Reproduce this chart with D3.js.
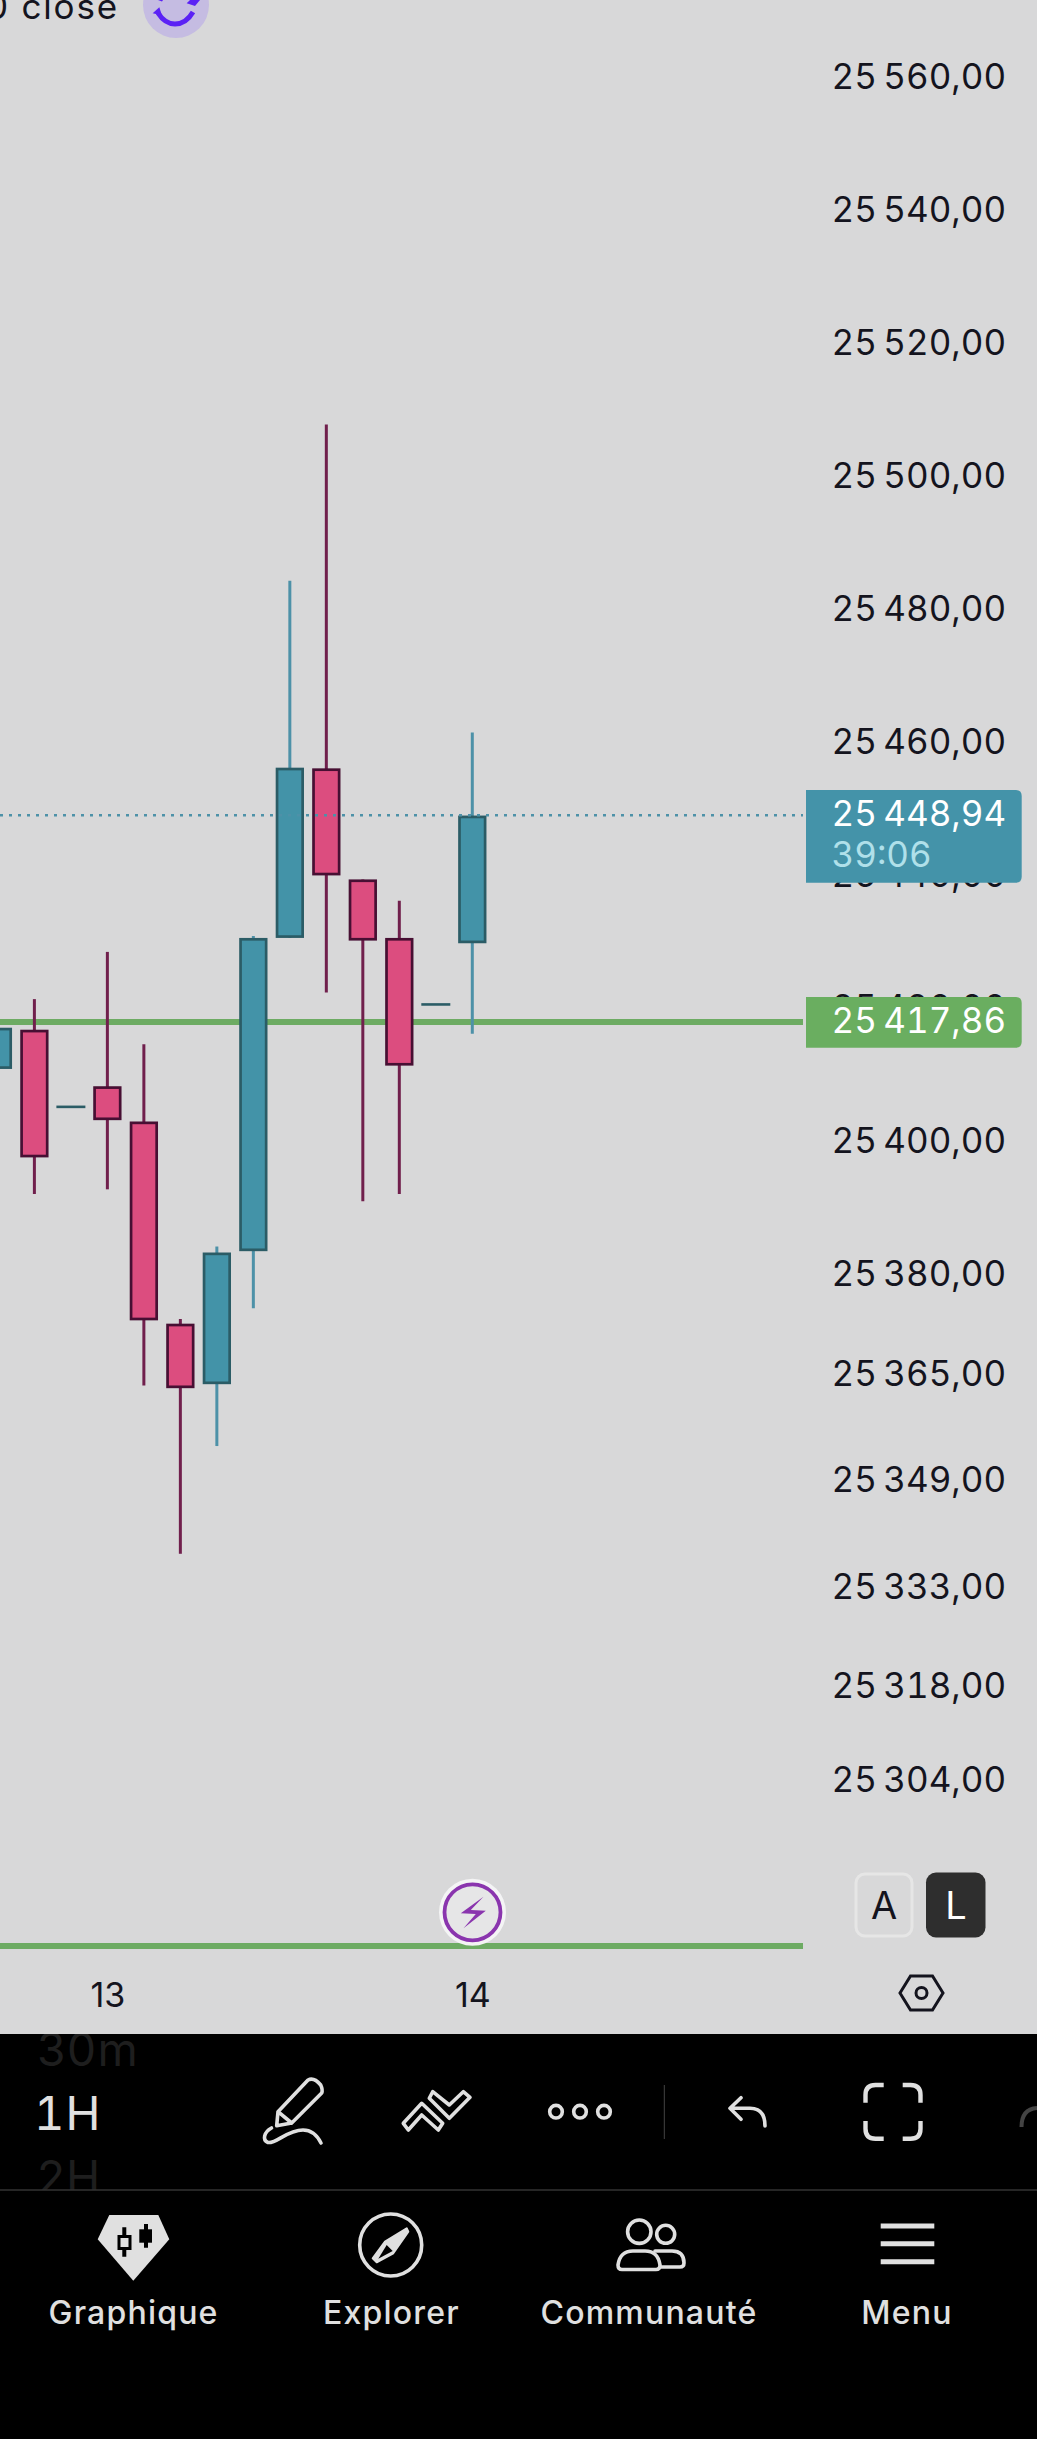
<!DOCTYPE html>
<html>
<head>
<meta charset="utf-8">
<script src="https://cdn.jsdelivr.net/npm/d3@7"></script>
<style>
  html, body { margin: 0; padding: 0; background: #000; overflow: hidden; }
  svg { display: block; font-family: Inter, "Noto Sans", sans-serif; }
  .axis path, .axis line { display: none; }
  .price { font-variant-numeric: tabular-nums; }
</style>
</head>
<body>
<div id="chart"></div>
<script>
// Hourly candles, left to right
const opens  = [25410.8, 25416.7, 25405.1, 25408.2, 25402.9, 25372.5, 25363.4, 25383.4, 25430.5, 25456.0, 25439.3, 25430.5, 25420.5, 25429.7];
const highs  = [25417.0, 25421.3, 25405.1, 25428.4, 25414.5, 25373.2, 25384.1, 25430.8, 25484.2, 25507.7, 25439.3, 25436.1, 25420.5, 25461.4];
const lows   = [25410.8, 25392.0, 25405.1, 25392.7, 25363.2, 25337.9, 25354.1, 25374.8, 25430.5, 25422.3, 25390.9, 25392.0, 25420.5, 25416.1];
const closes = [25417.0, 25397.5, 25405.1, 25403.1, 25373.0, 25362.8, 25383.2, 25430.5, 25456.1, 25439.9, 25430.1, 25411.3, 25420.5, 25448.9];

const priceTicks = [25560, 25540, 25520, 25500, 25480, 25460, 25440, 25420, 25400, 25380, 25365, 25349, 25333, 25318, 25304];
const dayTicks = [3, 13];
const dayLabels = ["13", "14"];
const lastPrice = 25448.94;
const linePrice = 25417.86;
const countdown = "39:06";
const navLabels = ["Graphique", "Explorer", "Communauté", "Menu"];
const navCenters = [133.6, 391.5, 649, 907];

const width = 1037, height = 2439;
const bg = "#d8d8d9", upFill = "#4393a8", upEdge = "#2b5c66", upWick = "#4d91a8";
const downFill = "#dc4d7f", downEdge = "#470f33", downWick = "#701f4c";
const green = "#6dab63", chrome = "#e0e0e0";

const candles = opens.map((o, i) => ({ i, o, h: highs[i], l: lows[i], c: closes[i] }));

const fr = d3.formatLocale({ decimal: ",", thousands: "\u2009", grouping: [3], currency: ["", ""] });
const fmt = fr.format(",.2f");

const x = d3.scaleLinear().domain([0, 13]).range([-2.1, 472.3]);
const y = d3.scaleLinear().domain([lastPrice, linePrice]).range([815.3, 1022]);

const svg = d3.select("#chart").append("svg")
    .attr("width", width).attr("height", height);

svg.append("rect").attr("width", width).attr("height", 2034).attr("fill", bg);

// Price axis, the tags further down cover two of its labels
const yAxis = svg.append("g").attr("class", "axis")
    .attr("transform", "translate(831.5,0.6)")
    .call(d3.axisRight(y).tickValues(priceTicks).tickFormat(fmt).tickSize(0).tickPadding(0))
    .attr("font-family", null);
yAxis.selectAll("text")
    .attr("class", "price").attr("font-size", 35).attr("fill", "#14141e");

// Time axis
const xAxis = svg.append("g").attr("class", "axis")
    .attr("transform", "translate(0,1983)")
    .call(d3.axisBottom(x).tickValues(dayTicks).tickFormat((d, i) => dayLabels[i]).tickSize(0).tickPadding(0))
    .attr("font-family", null);
xAxis.selectAll("text").attr("font-size", 34).attr("fill", "#14141e");

// Green price line, below the candles
svg.append("line")
    .attr("x1", 0).attr("x2", 803).attr("y1", y(linePrice)).attr("y2", y(linePrice))
    .attr("stroke", green).attr("stroke-width", 6);

const isUp = d => d.c >= d.o;
const real = candles.filter(d => d.o !== d.c);
const doji = candles.filter(d => d.o === d.c);

svg.selectAll(".wick").data(real.filter(d => d.i > 0)).enter().append("line")
    .attr("class", "wick")
    .attr("x1", d => x(d.i)).attr("x2", d => x(d.i))
    .attr("y1", d => y(d.h)).attr("y2", d => y(d.l))
    .attr("stroke", d => isUp(d) ? upWick : downWick)
    .attr("stroke-width", 3);

const bodyW = 25.6, edge = 2.7;
svg.selectAll(".body").data(real).enter().append("rect")
    .attr("class", "body")
    .attr("x", d => x(d.i) - bodyW / 2)
    .attr("y", d => y(Math.max(d.o, d.c)) + edge / 2)
    .attr("width", bodyW)
    .attr("height", d => Math.abs(y(d.o) - y(d.c)) - edge)
    .attr("fill", d => isUp(d) ? upFill : downFill)
    .attr("stroke", d => isUp(d) ? upEdge : downEdge)
    .attr("stroke-width", edge);

svg.selectAll(".doji").data(doji).enter().append("line")
    .attr("class", "doji")
    .attr("x1", d => x(d.i) - 14.5).attr("x2", d => x(d.i) + 14.5)
    .attr("y1", d => y(d.c)).attr("y2", d => y(d.c))
    .attr("stroke", upEdge).attr("stroke-width", 2.6);

// Dotted last price line
svg.append("line")
    .attr("x1", 0).attr("x2", 803).attr("y1", y(lastPrice)).attr("y2", y(lastPrice))
    .attr("stroke", upWick).attr("stroke-width", 2.6).attr("stroke-dasharray", "3 6");

// Price tags
function tagPath(x0, x1, y0, y1, r) {
  return `M${x0} ${y0}H${x1 - r}Q${x1} ${y0} ${x1} ${y0 + r}V${y1 - r}Q${x1} ${y1} ${x1 - r} ${y1}H${x0}Z`;
}
svg.append("path").attr("d", tagPath(806, 1021.7, 790, 882.7, 6)).attr("fill", "#4493a9");
svg.append("path").attr("d", tagPath(806, 1021.7, 997, 1047.7, 6)).attr("fill", "#6aae60");
const tagText = (txt, yy, col) => svg.append("text")
    .attr("class", "price")
    .attr("x", 831.5).attr("y", yy).attr("dy", "0.36em")
    .attr("font-size", 35).attr("fill", col).text(txt);
tagText(fmt(lastPrice), 813.7, "#fff");
tagText(countdown, 854.7, "#b0e0ea");
tagText(fmt(linePrice), 1020.3, "#fff");

// Cropped text and refresh badge at the top
svg.append("text").attr("x", -14).attr("y", 19).attr("font-size", 35).attr("letter-spacing", 1.8).attr("fill", "#14141e").text("0 close");
svg.append("circle").attr("cx", 176).attr("cy", 5).attr("r", 33).attr("fill", "#c5bce2");
svg.append("path").attr("d", "M158 13Q165 24 175 24Q186 24 193 12")
    .attr("fill", "none").attr("stroke", "#5b21f5").attr("stroke-width", 5);
svg.append("path").attr("d", "M152.7 13.3L159.3 7.3L162 15.5Z").attr("fill", "#5b21f5");
svg.append("path").attr("d", "M186.7 3.3L195 6L200 0H190Z").attr("fill", "#5b21f5");
svg.append("path").attr("d", "M158 0H163L162 1.5Z").attr("fill", "#5b21f5");

// Lower strip of the chart
svg.append("line").attr("x1", 0).attr("x2", 803).attr("y1", 1946).attr("y2", 1946)
    .attr("stroke", green).attr("stroke-width", 6);
svg.append("circle").attr("cx", 472.5).attr("cy", 1912.3).attr("r", 33.5).attr("fill", "#f4f4f5");
svg.append("circle").attr("cx", 472.5).attr("cy", 1912.3).attr("r", 28).attr("fill", "#e6e6e7")
    .attr("stroke", "#8a35ae").attr("stroke-width", 3.8);
svg.append("path").attr("d", "M483.5 1896.7L460.8 1913.3L475.8 1914L463.5 1928.3L485.8 1910.7L470.8 1910Z").attr("fill", "#8a35ae");

svg.append("rect").attr("x", 856).attr("y", 1874).attr("width", 56).attr("height", 62).attr("rx", 9)
    .attr("fill", "none").attr("stroke", "#e6e6e6").attr("stroke-width", 3);
svg.append("rect").attr("x", 926).attr("y", 1872.5).attr("width", 59.5).attr("height", 65).attr("rx", 10).attr("fill", "#2e2e2e");
svg.append("text").attr("x", 884).attr("y", 1905).attr("dy", "0.36em").attr("text-anchor", "middle")
    .attr("font-size", 38).attr("fill", "#14141e").text("A");
svg.append("text").attr("x", 956).attr("y", 1905).attr("dy", "0.36em").attr("text-anchor", "middle")
    .attr("font-size", 38).attr("fill", "#fff").text("L");
svg.append("path").attr("d", "M900 1993L910.5 1976H932.5L943 1993L932.5 2010H910.5Z")
    .attr("fill", "none").attr("stroke", "#14141e").attr("stroke-width", 3);
svg.append("circle").attr("cx", 921.5).attr("cy", 1993).attr("r", 5.5).attr("fill", "none").attr("stroke", "#14141e").attr("stroke-width", 3);

// Toolbar
svg.append("rect").attr("y", 2034).attr("width", width).attr("height", height - 2034).attr("fill", "#000");
svg.append("clipPath").attr("id", "bar").append("rect").attr("y", 2034).attr("width", width).attr("height", 156);
const ghost = svg.append("g").attr("clip-path", "url(#bar)").attr("fill", "#1e1e1e").attr("font-size", 46);
ghost.append("text").attr("x", 37).attr("y", 2049).attr("dy", "0.36em").attr("letter-spacing", 1.5).text("30m");
ghost.append("text").attr("x", 37).attr("y", 2177).attr("dy", "0.36em").attr("letter-spacing", 1).text("2H");
svg.append("text").attr("x", 34).attr("y", 2113).attr("dy", "0.36em").attr("font-size", 47).attr("letter-spacing", 1)
    .style("font-variant-numeric", "tabular-nums").attr("fill", chrome).text("1H");

const icons = svg.append("g").attr("fill", "none").attr("stroke", chrome).attr("stroke-width", 3.6)
    .attr("stroke-linejoin", "round").attr("stroke-linecap", "round");
icons.append("path").attr("d", "M276.7 2125.7L278 2111.7L308 2080Q314 2077 320.7 2085Q323 2090 321.7 2093L291.7 2123ZM278 2111.7L291.7 2123");
icons.append("path").attr("d", "M271.5 2128C264 2132 262 2140 268 2142.5C276 2144 287 2130 303 2130C312 2130 318 2137 321 2143");
icons.append("path").attr("d", "M403.3 2123.3L421.7 2103.3L442.7 2123.3L438.3 2130L421.7 2115L408.3 2130Z");
icons.append("path").attr("d", "M432.7 2091.7L449.3 2105L463.3 2091.7L470 2097.3L449.3 2118.3L429.3 2098.3Z");
[556, 580, 604].forEach(cx => icons.append("circle").attr("cx", cx).attr("cy", 2111.7).attr("r", 6.3));
svg.append("line").attr("x1", 664.3).attr("x2", 664.3).attr("y1", 2085).attr("y2", 2139).attr("stroke", "#444").attr("stroke-width", 1);
icons.append("path").attr("d", "M741 2097.7L730 2108.3L741 2119.3M730 2108.3H750Q765 2108.3 765 2126");
const brackets = svg.append("g").attr("fill", "none").attr("stroke", chrome).attr("stroke-width", 4.4);
brackets.append("path").attr("d", "M865.5 2102.7V2095Q865.5 2085 875.5 2085H883.7");
brackets.append("path").attr("d", "M902.7 2085H910.5Q920.5 2085 920.5 2095V2102.7");
brackets.append("path").attr("d", "M865.5 2121V2128.7Q865.5 2138.7 875.5 2138.7H883.7");
brackets.append("path").attr("d", "M902.7 2138.7H910.5Q920.5 2138.7 920.5 2128.7V2121");
svg.append("path").attr("d", "M1021.5 2127Q1021.5 2109 1037 2108").attr("fill", "none").attr("stroke", "#444").attr("stroke-width", 4);

svg.append("line").attr("x1", 0).attr("x2", width).attr("y1", 2190).attr("y2", 2190).attr("stroke", "#333").attr("stroke-width", 1.5);

// Bottom navigation
svg.append("path").attr("d", "M109.3 2215H158.3L169.3 2239.3L133.3 2280.7L97.7 2239.3Z").attr("fill", chrome);
svg.append("path").attr("d", "M124.3 2227.3V2256.7M146 2224V2247.7").attr("stroke", "#000").attr("stroke-width", 4);
svg.append("rect").attr("x", 119).attr("y", 2236.5).attr("width", 11).attr("height", 12).attr("fill", chrome).attr("stroke", "#000").attr("stroke-width", 3);
svg.append("rect").attr("x", 139.3).attr("y", 2229.3).attr("width", 12.7).attr("height", 13.4).attr("fill", "#000");

icons.append("circle").attr("cx", 390.7).attr("cy", 2245).attr("r", 31);
svg.append("path").attr("d", "M406.7 2228.3L385 2241.7L372.7 2258.3L376.7 2262.3L393.3 2253.3L408.3 2231.7Z")
    .attr("fill", chrome).attr("stroke", chrome).attr("stroke-width", 2).attr("stroke-linejoin", "round");
svg.append("path").attr("d", "M386.7 2245L392.7 2251L378.3 2258.7Z").attr("fill", "#000");

icons.append("circle").attr("cx", 639.3).attr("cy", 2231.7).attr("r", 11.7);
icons.append("circle").attr("cx", 665.7).attr("cy", 2234.3).attr("r", 9);
icons.append("path").attr("d", "M622 2269.5H656Q660 2269.5 660 2265Q658 2251 645 2251H633Q620 2251 618 2265Q618 2269.5 622 2269.5Z");
icons.append("path").attr("d", "M655 2251H672Q684 2251 684 2263Q684 2267 680 2267H660");
[2226, 2243.7, 2261.7].forEach(yy => svg.append("line").attr("x1", 880.7).attr("x2", 934.3).attr("y1", yy).attr("y2", yy)
    .attr("stroke", chrome).attr("stroke-width", 5));

svg.selectAll(".nav").data(navLabels).enter().append("text")
    .attr("class", "nav")
    .attr("x", (d, i) => navCenters[i]).attr("y", 2324)
    .attr("text-anchor", "middle").attr("font-size", 32).attr("font-weight", 500).attr("letter-spacing", 1.2)
    .attr("fill", chrome).text(d => d);
</script>
</body>
</html>
